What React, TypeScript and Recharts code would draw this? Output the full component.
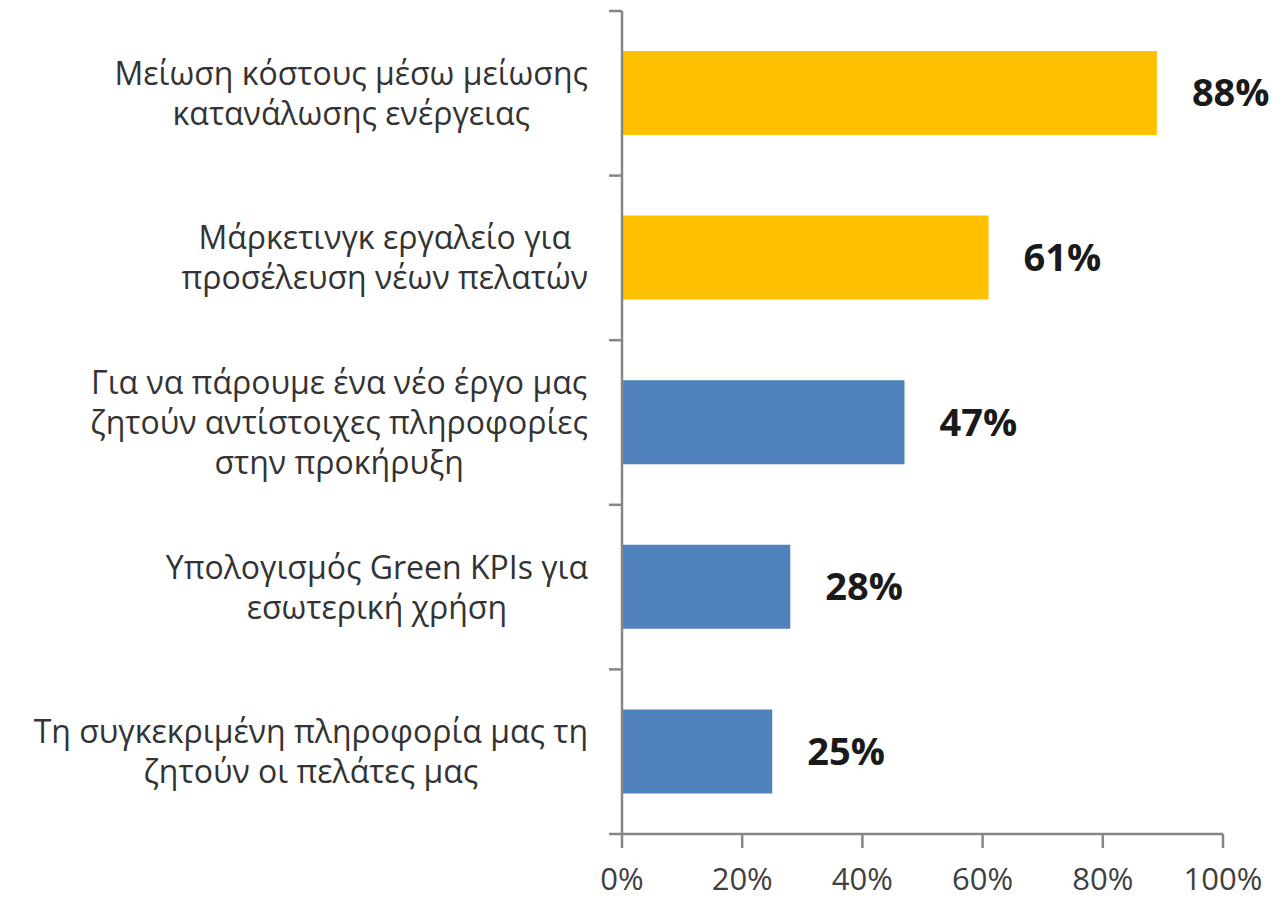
import React from 'react';
import { BarChart, Bar, XAxis, YAxis, Cell, LabelList } from 'recharts';

const categories: string[][] = [
  ['Μείωση κόστους μέσω μείωσης', 'κατανάλωσης ενέργειας'],
  ['Μάρκετινγκ εργαλείο για', 'προσέλευση νέων πελατών'],
  ['Για να πάρουμε ένα νέο έργο μας', 'ζητούν αντίστοιχες πληροφορίες', 'στην προκήρυξη'],
  ['Υπολογισμός Green KPIs για', 'εσωτερική χρήση'],
  ['Τη συγκεκριμένη πληροφορία μας τη', 'ζητούν οι πελάτες μας'],
];
const values = [89, 61, 47, 28, 25];
const valueLabels = ['88%', '61%', '47%', '28%', '25%'];
const xTicks = [0, 20, 40, 60, 80, 100];

const data = categories.map((lines, i) => ({
  name: lines.join(' '),
  lines,
  value: values[i],
  label: valueLabels[i],
}));

const BAR_COLORS = ['#FFC000', '#FFC000', '#4F81BD', '#4F81BD', '#4F81BD'];
const FONT = "'Open Sans', sans-serif";
const W = 1276;
const H = 898;
const MARGIN = { top: 11, right: 53, bottom: 0, left: 0 };
const Y_WIDTH = 622;
const X_HEIGHT = 64;
const TICK_MARGIN = 34;
const CAT_FONT = 32;
const LINE_H = 40;

let ctx: CanvasRenderingContext2D | null = null;
const measure = (s: string) => {
  if (!ctx) ctx = document.createElement('canvas').getContext('2d');
  if (!ctx) return s.length * CAT_FONT * 0.5;
  ctx.font = `${CAT_FONT}px ${FONT}`;
  return ctx.measureText(s).width;
};

const CategoryTick = (props: any) => {
  const { x, y, payload, index } = props;
  const row = data.find((d) => d.name === payload.value);
  const lines = row ? row.lines : [String(payload.value)];
  const maxW = Math.max(...lines.map(measure));
  const cx = x - maxW / 2;
  const axisX = x + TICK_MARGIN;
  const band =
    payload.offset ? payload.offset * 2 : (H - MARGIN.top - X_HEIGHT) / data.length;
  const startY = y - ((lines.length - 1) * LINE_H) / 2;
  return (
    <g>
      <line x1={axisX - 13} x2={axisX} y1={y - band / 2} y2={y - band / 2} stroke="#868686" strokeWidth={2.5} />
      {index === data.length - 1 && (
        <line x1={axisX - 13} x2={axisX} y1={y + band / 2} y2={y + band / 2} stroke="#868686" strokeWidth={2.5} />
      )}
      <text textAnchor="middle" fontFamily={FONT} fontSize={CAT_FONT} fill="#333333">
        {lines.map((l, i) => (
          <tspan key={i} x={cx} y={startY + i * LINE_H} dy="0.36em">
            {l}
          </tspan>
        ))}
      </text>
    </g>
  );
};

export default function App() {
  return (
    <div style={{ position: 'absolute', left: 0, top: 0, background: '#fff' }}>
      <BarChart width={W} height={H} data={data} layout="vertical" margin={MARGIN}>
        <XAxis
          type="number"
          domain={[0, 100]}
          ticks={xTicks}
          interval={0}
          tickFormatter={(v) => `${v}%`}
          height={X_HEIGHT}
          stroke="#868686"
          strokeWidth={2.5}
          tickSize={14}
          tickMargin={20}
          tick={{ fill: '#404040', fontSize: 31, fontFamily: FONT }}
        />
        <YAxis
          type="category"
          dataKey="name"
          width={Y_WIDTH}
          stroke="#868686"
          strokeWidth={2.5}
          tickLine={false}
          tickSize={0}
          tickMargin={TICK_MARGIN}
          interval={0}
          tick={<CategoryTick />}
        />
        <Bar dataKey="value" barSize={84} isAnimationActive={false}>
          {data.map((d, i) => (
            <Cell key={d.name} fill={BAR_COLORS[i]} />
          ))}
          <LabelList
            dataKey="label"
            position="right"
            offset={35}
            fill="#1a1a1a"
            fontSize={38}
            fontWeight="bold"
            fontFamily={FONT}
          />
        </Bar>
      </BarChart>
    </div>
  );
}
